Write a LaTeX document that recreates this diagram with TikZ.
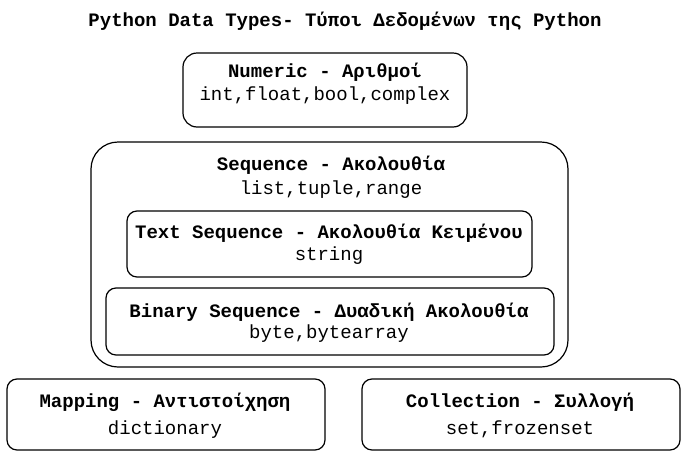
\documentclass[tikz,border=0pt]{standalone}
\usepackage{fontspec}
\setmainfont{Liberation Mono}
\usetikzlibrary{positioning}

\begin{document}
\begin{tikzpicture}[line cap=round,line join=round,x=1pt,y=1pt,
	box/.style={draw,line width=1.2pt,rounded corners=10pt,inner sep=0pt},
	head/.style={anchor=base,inner sep=0pt,font=\fontsize{19}{23}\selectfont\bfseries},
	kinds/.style={anchor=base,inner sep=0pt,font=\fontsize{19}{23}\selectfont}]
	\useasboundingbox (0,0) rectangle (689,-464);
	\node[head] (title) at (345,-26) {Python Data Types- Τύποι Δεδομένων της Python};
	% boxes
	\node[box,rounded corners=14pt,minimum width=284pt,minimum height=74pt] (numeric) at (325,-90) {};
	\node[box,rounded corners=27pt,minimum width=477pt,minimum height=225pt] (sequence) at (329.5,-254.5) {};
	\node[box,minimum width=405pt,minimum height=66pt] (textseq) at (329.5,-244) {};
	\node[box,minimum width=448pt,minimum height=67pt] (binseq) at (330,-321.5) {};
	\node[box,minimum width=318pt,minimum height=71pt] (mapping) at (166,-414.5) {};
	\node[box,minimum width=318pt,minimum height=71pt] (collection) at (521,-414.5) {};
	% texts
	\node[head] (numerichead) at (325,-77) {Numeric - Αριθμοί};
	\node[kinds] (numerickinds) at (325,-100) {int,float,bool,complex};
	\node[head] (sequencehead) at (331,-170) {Sequence - Ακολουθία};
	\node[kinds] (sequencekinds) at (331,-194) {list,tuple,range};
	\node[head] (textseqhead) at (329,-238) {Text Sequence - Ακολουθία Κειμένου};
	\node[kinds] (textseqkinds) at (329,-260) {string};
	\node[head] (binseqhead) at (329,-317) {Binary Sequence - Δυαδική Ακολουθία};
	\node[kinds] (binseqkinds) at (329,-338) {byte,bytearray};
	\node[head] (mappinghead) at (165,-407) {Mapping - Αντιστοίχηση};
	\node[kinds] (mappingkinds) at (165,-434) {dictionary};
	\node[head] (collectionhead) at (520,-407) {Collection - Συλλογή};
	\node[kinds] (collectionkinds) at (520,-434) {set,frozenset};
\end{tikzpicture}
\end{document}
